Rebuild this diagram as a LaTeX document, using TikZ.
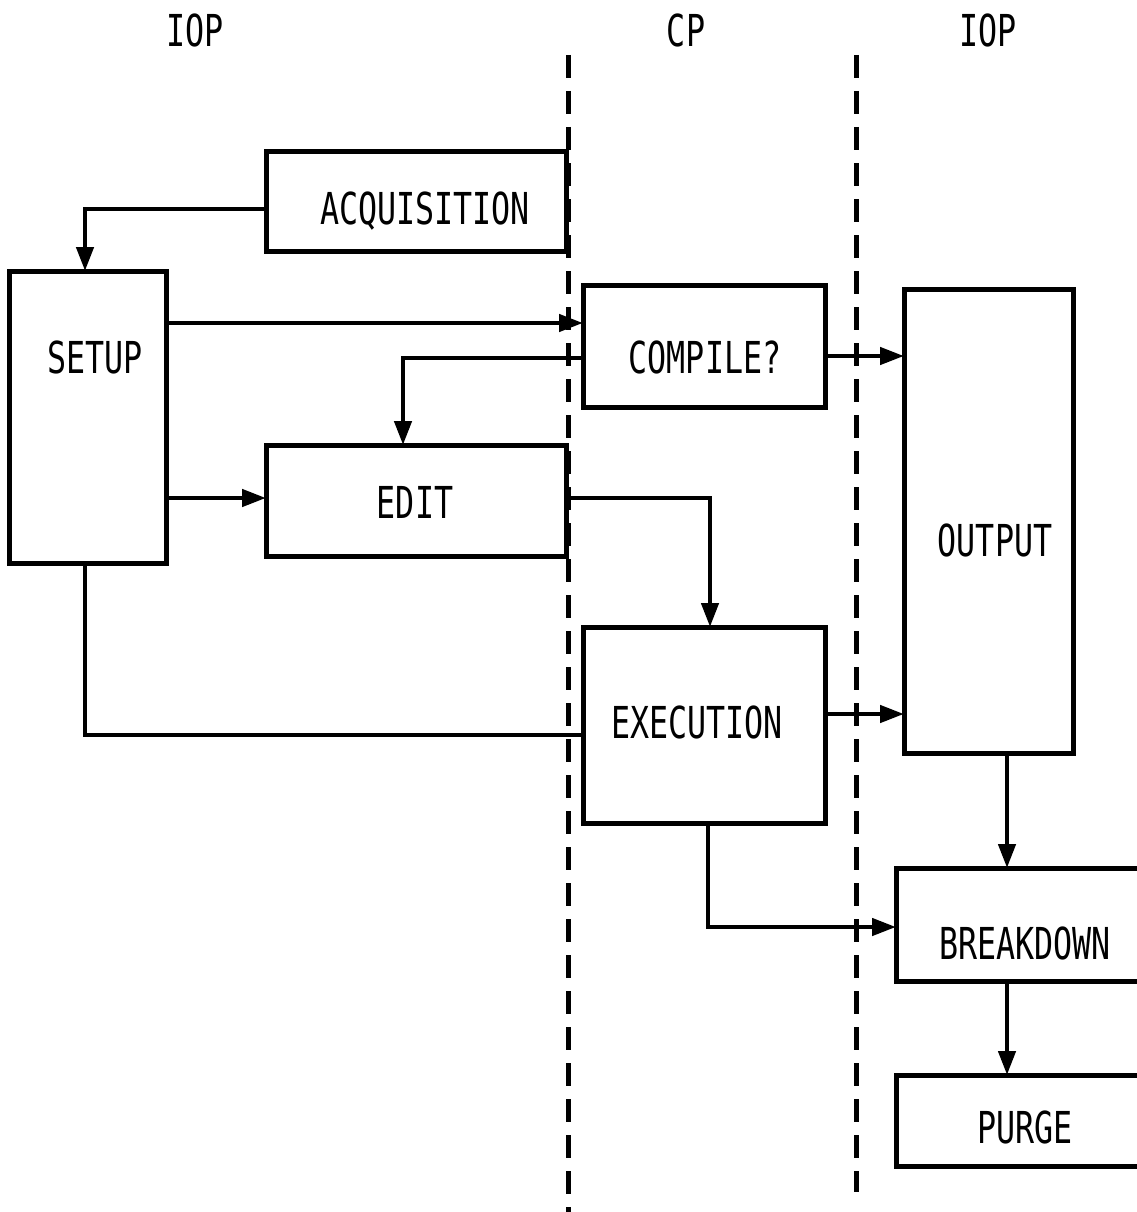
\documentclass[tikz,border=0pt]{standalone}
\usepackage{fontspec}
\setmainfont{DejaVu Sans Mono}[FakeStretch=0.72]
\usetikzlibrary{arrows.meta}
\begin{document}
\begin{tikzpicture}[x=1pt,y=-1pt,
  box/.style={draw,line width=5pt,rectangle,inner sep=0pt,outer sep=0pt},
  lbl/.style={font=\fontsize{44}{48}\selectfont,inner sep=0pt},
  conn/.style={line width=4.5pt},
  arr/.style={conn,-{Triangle[length=24pt,width=17pt]}},
  sep/.style={line width=5pt,dash pattern=on 23pt off 13pt}]
\useasboundingbox (0,0) rectangle (1136,1212);
% column separators
\coordinate (s1t) at (568,55); \coordinate (s1b) at (568,1212);
\coordinate (s2t) at (856,55); \coordinate (s2b) at (856,1192);
\draw[sep] (s1t) -- (s1b);
\draw[sep] (s2t) -- (s2b);
% headings
\node[lbl] (h1) at (195,30) {IOP};
\node[lbl] (h2) at (686,30) {CP};
\node[lbl] (h3) at (988,30) {IOP};
% boxes
\node[box,minimum width=300pt,minimum height=100pt] (acq) at (416,201) {};
\node[box,minimum width=157pt,minimum height=292pt] (setup) at (87.5,417) {};
\node[box,minimum width=242pt,minimum height=122pt] (compile) at (704,346) {};
\node[box,minimum width=300pt,minimum height=111pt] (edit) at (416,500.5) {};
\node[box,minimum width=242pt,minimum height=196pt] (exec) at (704,725) {};
\node[box,minimum width=169pt,minimum height=464pt] (output) at (988.5,521) {};
\node[box,minimum width=244pt,minimum height=113pt] (brk) at (1018,924.5) {};
\node[box,minimum width=244pt,minimum height=91pt] (purge) at (1018,1120.5) {};
% labels
\node[lbl] (acqt) at (425,211) {ACQUISITION};
\node[lbl] (setupt) at (95,357) {SETUP};
\node[lbl] (compilet) at (705,357) {COMPILE?};
\node[lbl] (editt) at (415,502) {EDIT};
\node[lbl] (exect) at (697,722) {EXECUTION};
\node[lbl] (outputt) at (995,540) {OUTPUT};
\node[lbl] (brkt) at (1025,943) {BREAKDOWN};
\node[lbl] (purget) at (1025,1127) {PURGE};
% connectors
\draw[arr] (acq.west |- 0,209) -| (setup.north -| 85,0);
\draw[arr] (setup.east |- 0,323) -- (compile.west |- 0,323);
\draw[arr] (compile.west |- 0,358) -| (edit.north -| 403,0);
\draw[arr] (setup.east |- 0,498) -- (edit.west |- 0,498);
\draw[arr] (edit.east |- 0,498) -| (exec.north -| 710,0);
\draw[conn] (setup.south -| 85,0) |- (exec.west |- 0,735);
\draw[arr] (compile.east |- 0,356) -- (output.west |- 0,356);
\draw[arr] (exec.east |- 0,714) -- (output.west |- 0,714);
\draw[arr] (output.south -| 1007,0) -- (brk.north -| 1007,0);
\draw[arr] (exec.south -| 708,0) |- (brk.west |- 0,927);
\draw[arr] (brk.south -| 1007,0) -- (purge.north -| 1007,0);
\end{tikzpicture}
\end{document}
